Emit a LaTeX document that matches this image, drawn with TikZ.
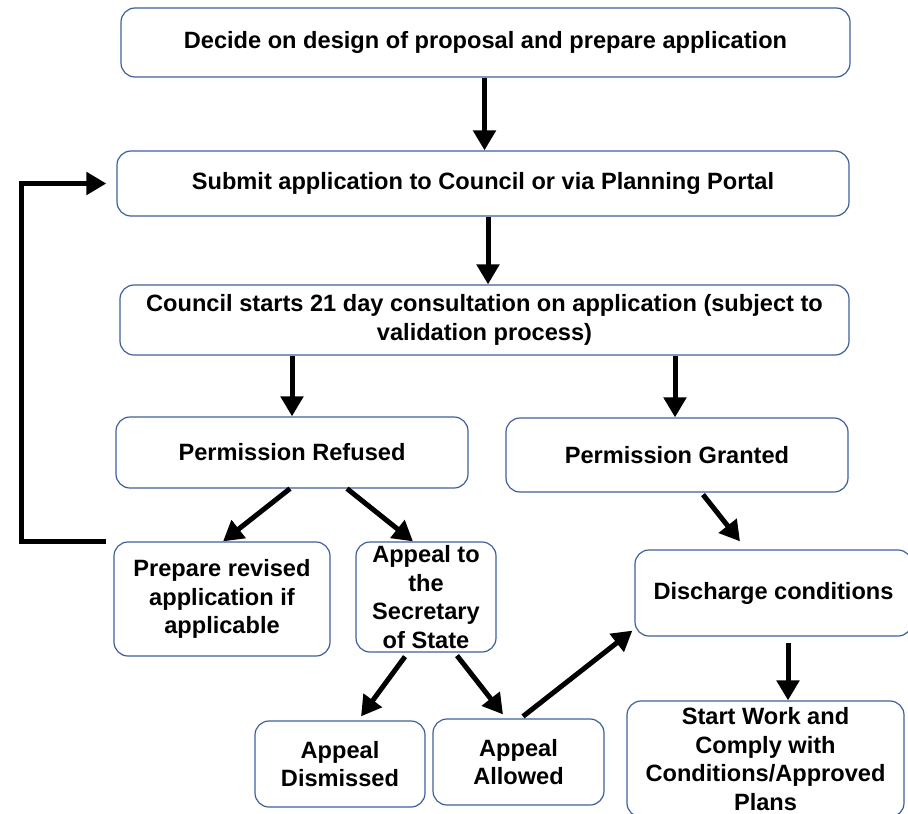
\documentclass[tikz,border=0pt]{standalone}
\usepackage{fontspec}
\setmainfont{Liberation Sans}
\usetikzlibrary{arrows.meta}
\definecolor{boxline}{RGB}{61,96,153}
\tikzset{
	box/.style={draw=boxline,line width=0.6pt,rounded corners=7pt,align=center,inner sep=0pt,font=\bfseries\fontsize{11.8pt}{14.2pt}\selectfont},
	arr/.style={line width=2.5pt,-{Triangle[length=10pt,width=11pt]}}
}
\begin{document}
\begin{tikzpicture}[x=0.5pt,y=-0.5pt]
		\useasboundingbox (0,0) rectangle (908,813);
		\node[box,minimum width=364.5pt,minimum height=34.5pt] (decide) at (485.5,42.5) {Decide on design of proposal and prepare application};
		\node[box,minimum width=366pt,minimum height=32.5pt] (submit) at (483,183.5) {Submit application to Council or via Planning Portal};
		\node[box,minimum width=364.5pt,minimum height=35pt] (consult) at (484.5,320) {Council starts 21 day consultation on application (subject to\\validation process)};
		\node[box,minimum width=176pt,minimum height=35.5pt] (refused) at (292,452.5) {Permission Refused};
		\node[box,minimum width=171pt,minimum height=37pt] (granted) at (677,455) {Permission Granted};
		\node[box,minimum width=108pt,minimum height=57pt] (revised) at (222,599) {Prepare revised\\application if\\applicable};
		\node[box,minimum width=70pt,minimum height=55pt] (appeal) at (426,597) {Appeal to\\the\\Secretary\\of State};
		\node[box,minimum width=138.5pt,minimum height=43pt] (discharge) at (773.5,593) {Discharge conditions};
		\node[box,minimum width=85pt,minimum height=43pt] (dismissed) at (340,764) {Appeal\\Dismissed};
		\node[box,minimum width=85.5pt,minimum height=43pt] (allowed) at (518.5,762) {Appeal\\Allowed};
		\node[box,minimum width=138.5pt,minimum height=58pt] (start) at (765.5,759) {Start Work and\\Comply with\\Conditions/Approved\\Plans};
		\draw[arr] ([xshift=-0.5pt]decide.south) -- ([xshift=-0.5pt]decide.south |- submit.north);
		\draw[arr] ([xshift=2.5pt]submit.south) -- ([xshift=2.5pt]submit.south |- consult.north);
		\draw[arr] (refused.north |- consult.south) -- (refused.north);
		\draw[arr] ([xshift=-1pt]granted.north |- consult.south) -- ([xshift=-1pt]granted.north);
		\draw[arr] ([xshift=-1pt]refused.south) -- ([xshift=0.5pt]revised.north);
		\draw[arr] ([xshift=27.5pt]refused.south) -- ([xshift=-6.5pt]appeal.north);
		\draw[arr] ([xshift=13pt,yshift=-1pt]granted.south) -- ([xshift=-16.75pt,yshift=4pt]discharge.north);
		\draw[arr] ([xshift=-10.5pt,yshift=-2pt]appeal.south) -- ([xshift=10.5pt,yshift=2pt]dismissed.north);
		\draw[arr] ([xshift=15.5pt,yshift=-1.5pt]appeal.south) -- ([xshift=-7.75pt,yshift=2pt]allowed.north);
		\draw[arr] ([xshift=2.25pt,yshift=1pt]allowed.north) -- ([xshift=-1pt,yshift=3pt]discharge.south west);
		\draw[arr] ([xshift=7.25pt,yshift=-3pt]discharge.south) -- ([xshift=7.25pt]discharge.south |- start.north);
		\draw[line width=2.5pt,-{Triangle[length=10pt,width=11pt]}] ([xshift=-3.5pt]revised.north west) -- ++(-85,0) |- ([xshift=-5pt]submit.west);
	\end{tikzpicture}
\end{document}
